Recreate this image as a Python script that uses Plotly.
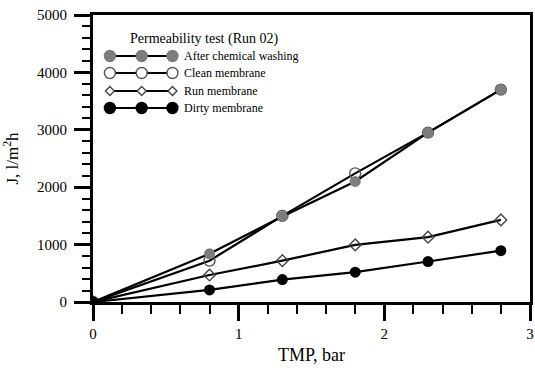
import plotly.graph_objects as go

# ---- data ----
tmp = [0, 0.8, 1.3, 1.8, 2.3, 2.8]
after_washing = [0, 840, 1490, 2100, 2950, 3700]
clean_membrane = [0, 720, 1500, 2240, 2950, 3700]
run_membrane = [0, 470, 720, 995, 1130, 1430]
dirty_membrane = [0, 210, 390, 520, 705, 895]

legend_title = "Permeability test (Run 02)"
series_names = ["After chemical washing", "Clean membrane", "Run membrane", "Dirty membrane"]

W, H = 535, 370
L, R, T, B = 93, 2, 15, 68
PW, PH = W - L - R, H - T - B
FONT = "Liberation Serif"
GREY = "#7d7d7d"

fig = go.Figure()

styles = [
    dict(symbol="circle", size=11, color=GREY, line=dict(width=0)),
    dict(symbol="circle-open", size=11, color="#555555", line=dict(width=1.4)),
    dict(symbol="diamond-open", size=9, color="#444444", line=dict(width=1.4)),
    dict(symbol="circle", size=11, color="black", line=dict(width=0)),
]
order = [1, 0, 2, 3]
data = [after_washing, clean_membrane, run_membrane, dirty_membrane]
for i in order:
    fig.add_trace(go.Scatter(
        x=tmp, y=data[i], mode="lines+markers", name=series_names[i],
        line=dict(color="black", width=2.2),
        marker=styles[i], showlegend=False,
    ))

# ---- custom legend (three-marker samples) in paper coordinates ----
def px(xp):
    return (xp - L) / PW

def py(yp):
    return (H - B - yp) / PH

rows = [56, 73, 91, 108]
mx = [110, 142, 173]
shapes = []
annotations = []
annotations.append(dict(x=px(128), y=py(39), xref="paper", yref="paper", text=legend_title,
                        showarrow=False, xanchor="left", yanchor="middle",
                        font=dict(family=FONT, size=14, color="black")))
for k, yy in enumerate(rows):
    shapes.append(dict(type="line", xref="paper", yref="paper", x0=px(mx[0]), x1=px(mx[-1]),
                       y0=py(yy), y1=py(yy), line=dict(color="black", width=2.2), layer="above"))
    for xx in mx:
        if k in (0, 1, 3):
            r = 5.5
            fill = {0: GREY, 1: "white", 3: "black"}[k]
            lc = {0: GREY, 1: "#555555", 3: "black"}[k]
            shapes.append(dict(type="circle", xref="paper", yref="paper",
                               x0=px(xx - r), x1=px(xx + r), y0=py(yy + r), y1=py(yy - r),
                               fillcolor=fill, line=dict(color=lc, width=1.4), layer="above"))
        else:
            r = 4.5
            path = (f"M {px(xx - r)} {py(yy)} L {px(xx)} {py(yy - r)} "
                    f"L {px(xx + r)} {py(yy)} L {px(xx)} {py(yy + r)} Z")
            shapes.append(dict(type="path", xref="paper", yref="paper", path=path,
                               fillcolor="white", line=dict(color="#444444", width=1.4), layer="above"))
    annotations.append(dict(x=px(183), y=py(yy), xref="paper", yref="paper", text=series_names[k],
                            showarrow=False, xanchor="left", yanchor="middle",
                            font=dict(family=FONT, size=12, color="black")))

def axis_common():
    return dict(
        showline=True, linecolor="black", linewidth=2.8, mirror=True,
        ticks="outside", ticklen=16, tickwidth=2.8, tickcolor="black",
        showgrid=False, zeroline=False,
        tickfont=dict(family=FONT, size=15, color="black"),
    )

fig.update_layout(
    width=W, height=H,
    font=dict(family=FONT, color="black"),
    margin=dict(l=L, r=R, t=T, b=B),
    paper_bgcolor="white", plot_bgcolor="white",
    shapes=shapes, annotations=annotations,
    xaxis=dict(range=[0, 3], tick0=0, dtick=1, **axis_common(),
               minor=dict(ticks="outside", ticklen=9, tickwidth=2, tickcolor="black", dtick=0.2),
               title=dict(text="TMP, bar", font=dict(family=FONT, size=18, color="black"), standoff=8)),
    yaxis=dict(range=[0, 5000], tick0=0, dtick=1000, **axis_common(),
               ticklabelstandoff=4,
               minor=dict(ticks="outside", ticklen=8, tickwidth=2, tickcolor="black", dtick=200),
               title=dict(text="J, l/m<sup>2</sup>h", font=dict(family=FONT, size=17, color="black"), standoff=15)),
)

fig.write_html("out.html")
